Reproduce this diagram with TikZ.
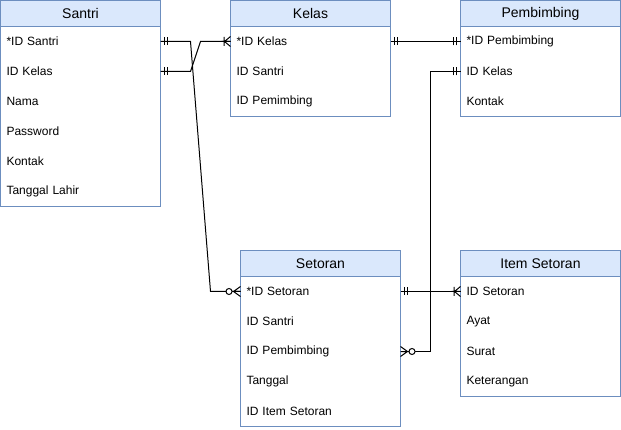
\documentclass[tikz,border=0pt]{standalone}
\usepackage{fontspec}
\setmainfont{Liberation Sans}
\usetikzlibrary{calc}
\definecolor{kopffarbe}{HTML}{DAE8FC}
\definecolor{randfarbe}{HTML}{6C8EBF}

% ER-Enden (genau eins, eins-bis-viele, null-bis-viele)
\pgfarrowsdeclare{erone}{erone}
{\pgfarrowsleftextend{-9pt}\pgfarrowsrightextend{0pt}}
{
  \pgfsetdash{}{0pt}
  \pgfpathmoveto{\pgfpoint{-9pt}{0pt}}\pgfpathlineto{\pgfpoint{0pt}{0pt}}
  \pgfpathmoveto{\pgfpoint{-4pt}{-4pt}}\pgfpathlineto{\pgfpoint{-4pt}{4pt}}
  \pgfpathmoveto{\pgfpoint{-7pt}{-4pt}}\pgfpathlineto{\pgfpoint{-7pt}{4pt}}
  \pgfusepathqstroke
}
\pgfarrowsdeclare{eronemany}{eronemany}
{\pgfarrowsleftextend{-9pt}\pgfarrowsrightextend{0pt}}
{
  \pgfsetdash{}{0pt}
  \pgfpathmoveto{\pgfpoint{-9pt}{0pt}}\pgfpathlineto{\pgfpoint{0pt}{0pt}}
  \pgfpathmoveto{\pgfpoint{-6.5pt}{-4.5pt}}\pgfpathlineto{\pgfpoint{-6.5pt}{4.5pt}}
  \pgfpathmoveto{\pgfpoint{0pt}{-5pt}}\pgfpathlineto{\pgfpoint{-6pt}{0pt}}
  \pgfpathlineto{\pgfpoint{0pt}{5pt}}
  \pgfusepathqstroke
}
\pgfarrowsdeclare{erzeromany}{erzeromany}
{\pgfarrowsleftextend{-15pt}\pgfarrowsrightextend{0pt}}
{
  \pgfsetdash{}{0pt}
  \pgfpathmoveto{\pgfpoint{-15pt}{0pt}}\pgfpathlineto{\pgfpoint{0pt}{0pt}}
  \pgfpathmoveto{\pgfpoint{0pt}{-5pt}}\pgfpathlineto{\pgfpoint{-7pt}{0pt}}
  \pgfpathlineto{\pgfpoint{0pt}{5pt}}
  \pgfusepathqstroke
  \pgfsetfillcolor{white}
  \pgfpathcircle{\pgfpoint{-11.5pt}{0pt}}{3pt}
  \pgfusepathqfillstroke
}

\begin{document}
\begin{tikzpicture}[x=1pt,y=-1pt,line width=1pt]
		\useasboundingbox (-0.5,-0.5) rectangle (620.5,429.5);

		% Koerper der Tabellen
		\begin{scope}[draw=randfarbe,fill=white]
			\filldraw (0,26) rectangle (160,206);
			\filldraw (230,26) rectangle (390,116);
			\filldraw (460,26) rectangle (620,116);
			\filldraw (240,276) rectangle (400,426);
			\filldraw (460,276) rectangle (620,396);
		\end{scope}

		\begin{scope}[every node/.style={draw=randfarbe,fill=kopffarbe,minimum width=160pt,minimum height=26pt,inner sep=0pt,outer sep=0pt,anchor=north west,font=\fontsize{14pt}{16pt}\selectfont}]
			\node (santri) at (0,0) {Santri};
			\node (kelas) at (230,0) {Kelas};
			\node (pembimbing) at (460,0) {Pembimbing};
			\node (setoran) at (240,250) {Setoran};
			\node (itemsetoran) at (460,250) {Item Setoran};
		\end{scope}

		\begin{scope}[every node/.style={anchor=west,text width=148pt,align=left,inner xsep=6pt,inner ysep=0pt,outer sep=0pt,minimum height=30pt,font=\fontsize{12pt}{14pt}\selectfont}]
			\node (santriid) at (0,41) {*ID Santri};
			\node (santrikelas) at (0,71) {ID Kelas};
			\node (santrinama) at (0,101) {Nama};
			\node (santripass) at (0,131) {Password};
			\node (santrikontak) at (0,161) {Kontak};
			\node (santrilahir) at (0,191) {Tanggal Lahir};
			\node (kelasid) at (230,41) {*ID Kelas};
			\node (kelassantri) at (230,71) {ID Santri};
			\node (kelaspemb) at (230,101) {ID Pemimbing};
			\node (pembid) at (460,41) {*ID Pembimbing};
			\node (pembkelas) at (460,71) {ID Kelas};
			\node (pembkontak) at (460,101) {Kontak};
			\node (setoranid) at (240,291) {*ID Setoran};
			\node (setoransantri) at (240,321) {ID Santri};
			\node (setoranpemb) at (240,351) {ID Pembimbing};
			\node (setorantgl) at (240,381) {Tanggal};
			\node (setoranitem) at (240,411) {ID Item Setoran};
			\node (itemid) at (460,291) {ID Setoran};
			\node (itemayat) at (460,321) {Ayat};
			\node (itemsurat) at (460,351) {Surat};
			\node (itemket) at (460,381) {Keterangan};
		\end{scope}

		\begin{scope}[black]
			\draw[erone-erzeromany] (santriid.east) -- ++(30,0) -- ($(setoranid.west)+(-30,0)$) -- (setoranid.west);
			\draw[erone-eronemany] (santrikelas.east) -- ++(30,0) -- ($(kelasid.west)+(-30,0)$) -- (kelasid.west);
			\draw[erone-erone] (kelasid.east) -- (pembid.west);
			\draw[erone-erzeromany] (pembkelas.west) -- ++(-30,0) |- (setoranpemb.east);
			\draw[erone-eronemany] (setoranid.east) -- (itemid.west);
		\end{scope}
	\end{tikzpicture}
\end{document}
